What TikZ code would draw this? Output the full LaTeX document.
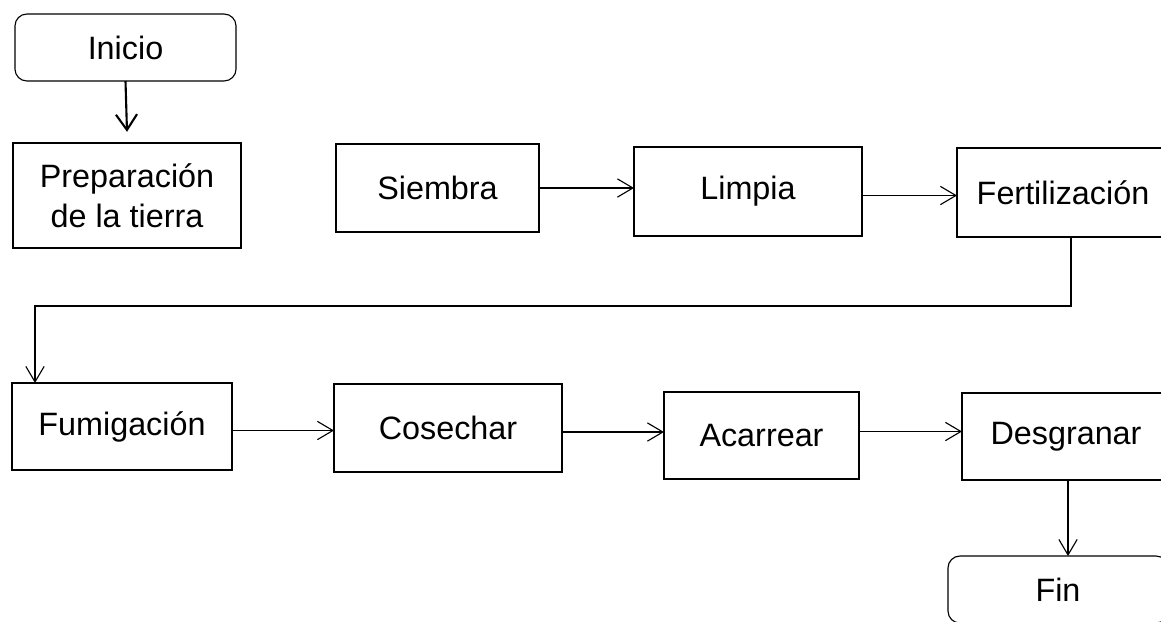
\documentclass[tikz,border=0pt]{standalone}
\usepackage{fontspec}
\setmainfont{Liberation Sans}
\usepackage{tikz}
\usetikzlibrary{arrows.meta}
\tikzset{caja/.style={draw, line width=0.8pt, inner sep=0pt, outer sep=0pt, align=center,
    font=\fontsize{23}{28.5}\selectfont},
  inicial/.style={caja, rounded corners=0.3cm},
  flecha/.style={line width=0.8pt, -{Straight Barb[length=11pt,width=13pt]}}}

\begin{document}
\begin{tikzpicture}[x=0.025cm,y=-0.025cm]
\useasboundingbox (0,0) rectangle (1161,621);
\clip (0,0) rectangle (1161,621);
% primera fila
\node[inicial, minimum width=5.525cm, minimum height=1.675cm] (inicio) at (125.5,47.5) {Inicio};
\node[caja, minimum width=5.7cm, minimum height=2.625cm] (prep) at (127,195.5) {Preparaci\'on\\de la tierra};
\node[caja, minimum width=5.075cm, minimum height=2.2cm] (siembra) at (437.5,188) {Siembra};
\node[caja, minimum width=5.7cm, minimum height=2.225cm] (limpia) at (748,191.5) {Limpia};
\node[caja, minimum width=5.3cm, minimum height=2.225cm] (fert) at (1063,192.5) {Fertilizaci\'on};
% segunda fila
\node[caja, minimum width=5.5cm, minimum height=2.175cm] (fumig) at (122,426.5) {Fumigaci\'on};
\node[caja, minimum width=5.7cm, minimum height=2.2cm] (cosechar) at (448,428) {Cosechar};
\node[caja, minimum width=4.875cm, minimum height=2.175cm] (acarrear) at (761.5,435.5) {Acarrear};
\node[caja, minimum width=5.2cm, minimum height=2.175cm] (desgranar) at (1066,436.5) {Desgranar};
\node[inicial, minimum width=5.5cm, minimum height=1.675cm] (fin) at (1058,589.5) {Fin};
% conectores
\draw[flecha, line width=1.5pt, -{Straight Barb[length=11pt,width=15pt]}] (inicio.south) -- ([yshift=0.28cm]prep.north);
\draw[flecha] (siembra.east) -- (siembra.east -| limpia.west);
\draw[flecha] ([yshift=-0.1cm]limpia.east) -- ([yshift=-0.1cm]limpia.east -| fert.west);
\coordinate (vuelta) at (35,306);
\draw[flecha] ([xshift=0.2cm]fert.south) |- (vuelta) -- (vuelta |- fumig.north);
\draw[flecha] ([yshift=-0.1cm]fumig.east) -- ([yshift=-0.1cm]fumig.east -| cosechar.west);
\draw[flecha] ([yshift=-0.1cm]cosechar.east) -- ([yshift=-0.1cm]cosechar.east -| acarrear.west);
\draw[flecha] ([yshift=0.1cm]acarrear.east) -- ([yshift=0.1cm]acarrear.east -| desgranar.west);
\draw[flecha] ([xshift=0.05cm]desgranar.south) -- ([xshift=0.05cm]desgranar.south |- fin.north);
\end{tikzpicture}
\end{document}
